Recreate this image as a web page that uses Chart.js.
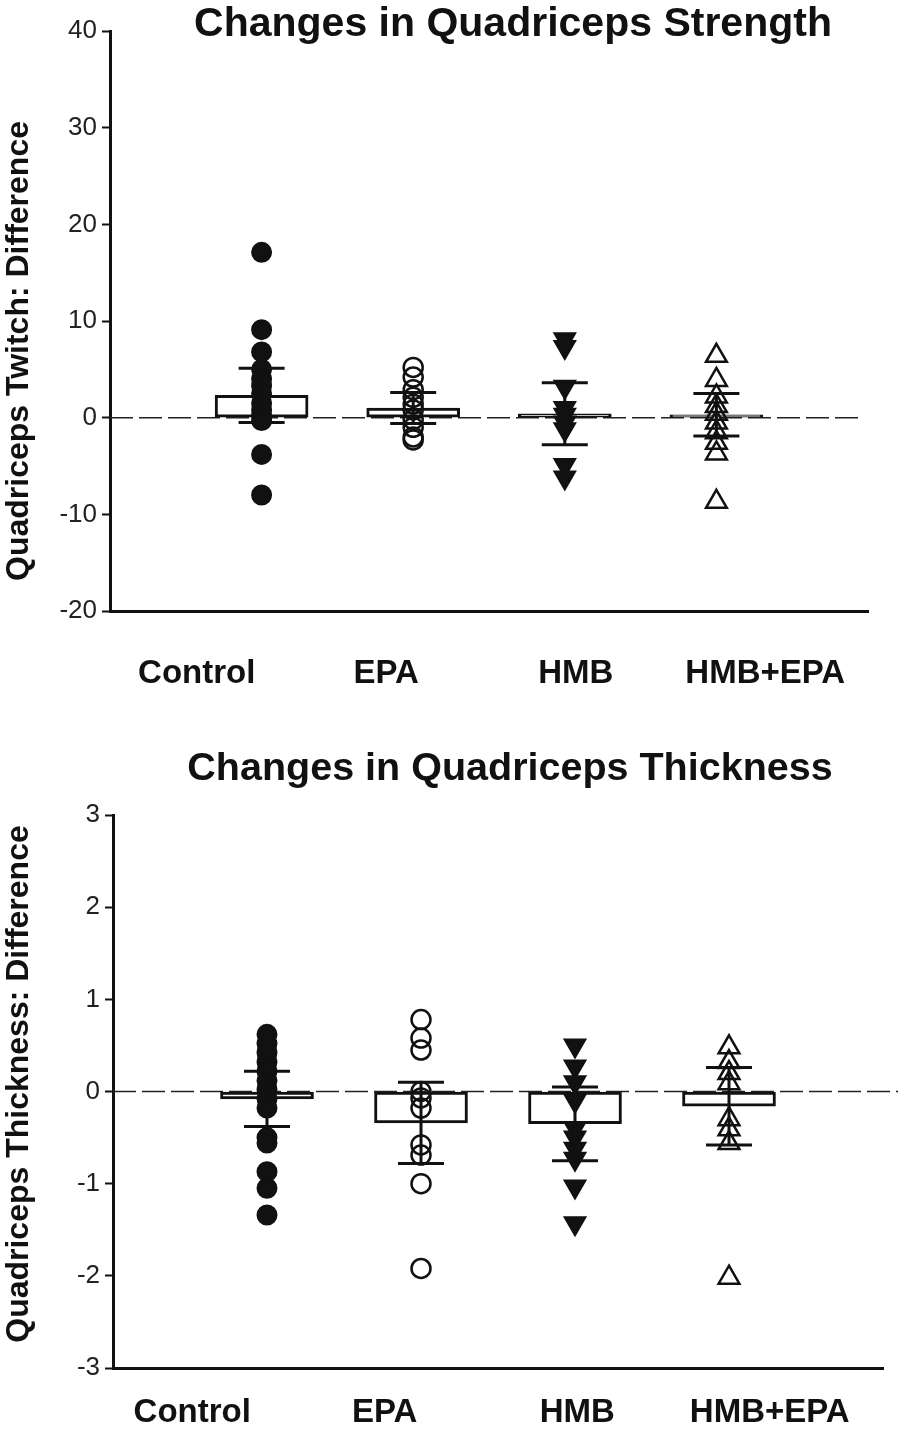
<!DOCTYPE html>
<html>
<head>
<meta charset="utf-8">
<script src="https://cdn.jsdelivr.net/npm/chart.js@4.4.1/dist/chart.umd.min.js"></script>
<style>
    body { margin: 0; background: #fff; }
    canvas { display: block; }
</style>
</head>
<body>
<canvas id="chartStrength" width="904" height="716"></canvas>
<canvas id="chartThickness" width="904" height="716"></canvas>
<script>
var groups = ['Control', 'EPA', 'HMB', 'HMB+EPA'];

// quadriceps twitch (strength), difference
var twitchTicks = [-20, -10, 0, 10, 20, 30, 40];
var twitchMean = [2.3, 1.0, 0.4, 0.3];
var twitchSE = [2.8, 1.6, 3.2, 2.2];
var twitchControl = [17.1, 9.1, 6.8, 5.0, 4.0, 3.3, 2.5, 1.5, 0.8, 0.2, -0.3, -3.8, -8.0];
var twitchEPA = [5.2, 4.2, 2.9, 2.1, 1.4, 0.8, -0.2, -1.0, -2.0, -2.3];
var twitchHMB = [8.1, 7.3, 3.2, 1.0, 0.3, -0.5, -1.2, -4.9, -6.2];
var twitchHMBEPA = [6.4, 3.9, 2.2, 1.2, 0.4, -0.5, -1.5, -2.6, -3.7, -8.7];

// quadriceps thickness, difference
var thickTicks = [-3, -2, -1, 0, 1, 2, 3];
var thickMean = [-0.08, -0.34, -0.35, -0.16];
var thickSE = [0.3, 0.44, 0.4, 0.42];
var thickControl = [0.62, 0.52, 0.42, 0.32, 0.22, 0.12, 0.02, -0.08, -0.18, -0.5, -0.56, -0.87, -1.05, -1.34];
var thickEPA = [0.78, 0.58, 0.45, 0.0, -0.07, -0.18, -0.58, -0.69, -1.0, -1.92];
var thickHMB = [0.5, 0.27, 0.1, -0.1, -0.4, -0.5, -0.62, -0.73, -1.03, -1.43];
var thickHMBEPA = [0.48, 0.32, 0.2, 0.09, -0.3, -0.41, -0.56, -2.02];

Chart.defaults.font.family = '"Liberation Sans", Arial, sans-serif';
Chart.defaults.color = '#111';

var ink = '#111';

function zeroLine(extend)
{
    return {
        id: 'zeroLine',
        beforeDatasetsDraw(chart) {
            let ctx = chart.ctx;
            let y = chart.scales.y.getPixelForValue(0);
            ctx.save();
            ctx.strokeStyle = '#222';
            ctx.lineWidth = 1.5;
            ctx.setLineDash([23, 6]);
            ctx.beginPath();
            ctx.moveTo(chart.chartArea.left, y);
            ctx.lineTo(chart.chartArea.right + extend, y);
            ctx.stroke();
            ctx.restore();
        }
    };
}

function errorBars(mean, se)
{
    return {
        id: 'errorBars',
        afterDatasetsDraw(chart) {
            let ctx = chart.ctx;
            let x = chart.scales.x, y = chart.scales.y;
            ctx.save();
            ctx.strokeStyle = ink;
            ctx.lineWidth = 3;
            mean.forEach((m, i) => {
                let px = x.getPixelForValue(i + 1);
                let top = y.getPixelForValue(m + se[i]);
                let bot = y.getPixelForValue(m - se[i]);
                ctx.beginPath();
                ctx.moveTo(px, top); ctx.lineTo(px, bot);
                ctx.moveTo(px - 23, top); ctx.lineTo(px + 23, top);
                ctx.moveTo(px - 23, bot); ctx.lineTo(px + 23, bot);
                ctx.stroke();
            });
            ctx.restore();
        }
    };
}

function texts(o)
{
    return {
        id: 'texts',
        afterDraw(chart) {
            let ctx = chart.ctx;
            ctx.save();
            ctx.fillStyle = ink;
            ctx.textAlign = 'center';
            ctx.textBaseline = 'middle';
            ctx.font = 'bold ' + o.titleSize + 'px "Liberation Sans", Arial, sans-serif';
            ctx.fillText(o.title, o.titleX, o.titleY);
            ctx.translate(19, o.yTitleY);
            ctx.rotate(-Math.PI / 2);
            ctx.font = 'bold 32px "Liberation Sans", Arial, sans-serif';
            ctx.fillText(o.yTitle, 0, 0);
            ctx.restore();
        }
    };
}

function pts(values, g)
{
    return values.map(v => ({ x: g + 1, y: v }));
}

function montaGrafico(id, o)
{
    let datasets = [
        {
            type: 'bar',
            data: o.mean.map((m, i) => ({ x: i + 1, y: m })),
            backgroundColor: '#fff',
            borderColor: ink,
            borderWidth: 3,
            borderSkipped: false,
            barThickness: 93,
            order: 3
        },
        {
            data: pts(o.series[0], 0),
            pointStyle: 'circle', pointRadius: 9.5, pointBorderWidth: 2,
            pointBackgroundColor: ink, pointBorderColor: ink, order: 1
        },
        {
            data: pts(o.series[1], 1),
            pointStyle: 'circle', pointRadius: 9.5, pointBorderWidth: 2.5,
            pointBackgroundColor: 'rgba(0,0,0,0)', pointBorderColor: ink, order: 1
        },
        {
            data: pts(o.series[2], 2),
            pointStyle: 'triangle', pointRadius: 12, pointRotation: 180, pointBorderWidth: 2,
            pointBackgroundColor: ink, pointBorderColor: ink, order: 1
        },
        {
            data: pts(o.series[3], 3),
            pointStyle: 'triangle', pointRadius: 12, pointBorderWidth: 2.5,
            pointBackgroundColor: 'rgba(0,0,0,0)', pointBorderColor: ink, order: 1
        }
    ];

    let config = {
        type: 'scatter',
        data: { datasets: datasets },
        options: {
            responsive: false,
            animation: false,
            events: [],
            layout: { padding: o.padding },
            plugins: {
                legend: { display: false },
                tooltip: { enabled: false },
                title: { display: false }
            },
            scales: {
                x: {
                    type: 'linear', display: false, min: 0, max: 5, offset: false
                },
                xl: {
                    type: 'category',
                    position: 'bottom',
                    labels: groups,
                    offset: true,
                    grid: { display: false },
                    border: { display: true, color: ink, width: 3 },
                    ticks: {
                        font: { size: 33, weight: 'bold' },
                        color: ink,
                        padding: o.labelPad,
                        labelOffset: o.labelOffset,
                        maxRotation: 0
                    },
                    afterFit: (scale) => { scale.height = o.xHeight; }
                },
                y: {
                    min: o.ticks[0],
                    max: o.ticks[o.ticks.length - 1],
                    grid: {
                        drawOnChartArea: false,
                        drawTicks: true,
                        tickLength: 8,
                        tickWidth: 2,
                        color: ink
                    },
                    border: { display: true, color: ink, width: 3 },
                    ticks: {
                        stepSize: o.ticks[1] - o.ticks[0],
                        font: { size: 26 },
                        color: '#222',
                        padding: 5
                    },
                    afterFit: (scale) => { scale.width = o.yWidth; }
                }
            }
        },
        plugins: [zeroLine(o.extend), errorBars(o.mean, o.se), texts(o)]
    };

    return new Chart(document.getElementById(id), config);
}

montaGrafico('chartStrength', {
    mean: twitchMean, se: twitchSE, ticks: twitchTicks,
    series: [twitchControl, twitchEPA, twitchHMB, twitchHMBEPA],
    padding: { top: 31, right: 36, left: 0, bottom: 0 },
    yWidth: 110, xHeight: 105, labelPad: 35, labelOffset: -8, extend: -5,
    title: 'Changes in Quadriceps Strength', titleSize: 41, titleX: 513, titleY: 25,
    yTitle: 'Quadriceps Twitch: Difference', yTitleY: 351
});

montaGrafico('chartThickness', {
    mean: thickMean, se: thickSE, ticks: thickTicks,
    series: [thickControl, thickEPA, thickHMB, thickHMBEPA],
    padding: { top: 99, right: 21, left: 0, bottom: 0 },
    yWidth: 113, xHeight: 64, labelPad: 17, labelOffset: -17, extend: 15,
    title: 'Changes in Quadriceps Thickness', titleSize: 39.5, titleX: 510, titleY: 53,
    yTitle: 'Quadriceps Thickness: Difference', yTitleY: 368
});
</script>
</body>
</html>
